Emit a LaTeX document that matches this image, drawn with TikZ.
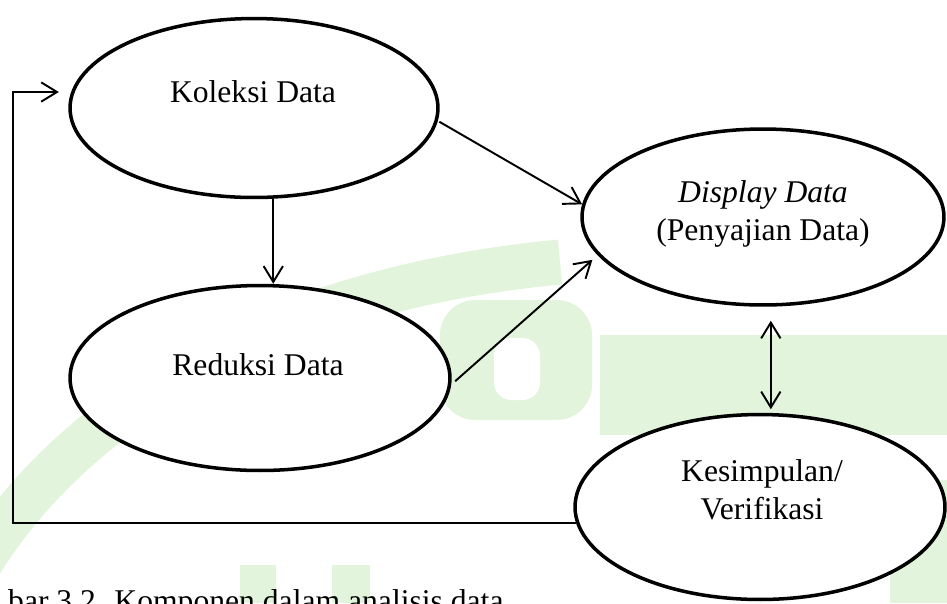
\documentclass[tikz,border=0pt]{standalone}
\usepackage{fontspec}
\setmainfont{Liberation Serif}
\usetikzlibrary{arrows.meta,shapes.geometric,calc}
\tikzset{>={Straight Barb[length=9pt,width=11pt]}}
\tikzset{stage/.style={ellipse,draw,line width=2pt,fill=white,inner sep=0pt}}
\tikzset{flow/.style={->,line width=1.1pt}}
\tikzset{stagetext/.style={font=\fontsize{18}{21.5}\selectfont,align=center}}
\definecolor{wmgreen}{RGB}{226,244,219}

\begin{document}
\begin{tikzpicture}[x=0.02cm,y=-0.02cm]
  \clip (0,0) rectangle (947,603);

  % Watermark
  \draw[wmgreen,line width=0.9cm] (-30,580) .. controls (60,420) and (260,290) .. (560,262);
  \fill[wmgreen,rounded corners=20pt] (440,300) rectangle (592,420);
  \fill[white,rounded corners=10pt] (494,338) rectangle (540,400);
  \fill[wmgreen] (600,335) rectangle (947,435);
  \fill[wmgreen] (240,565) rectangle (276,603);
  \fill[wmgreen] (332,565) rectangle (370,603);
  \fill[wmgreen] (890,480) rectangle (947,603);

  % Stages
  \node[stage,minimum width=7.36cm,minimum height=3.58cm] (koleksi) at (254,108) {};
  \node[stage,minimum width=7.6cm,minimum height=3.7cm] (reduksi) at (260,378) {};
  \node[stage,minimum width=7.24cm,minimum height=3.52cm] (display) at (763,217) {};
  \node[stage,minimum width=7.4cm,minimum height=3.7cm] (kesimpulan) at (760,507) {};

  % Labels
  \node[stagetext] (koleksi-txt) at (253,92) {Koleksi Data};
  \node[stagetext] (reduksi-txt) at (258,365) {Reduksi Data};
  \node[stagetext] (display-txt) at (763,214) {\textit{Display Data}\\(Penyajian Data)};
  \node[stagetext] (kesimpulan-txt) at (762,490) {Kesimpulan/\\Verifikasi};
  \node[stagetext,anchor=base west] (caption) at (2,611) {bar 3.2. Komponen dalam analisis data};

  % Arrows
  \coordinate (back) at (13,0);
  \draw[flow,shorten <=1pt] (koleksi.-4) -- (display.176);
  \draw[flow,shorten <=3pt,shorten >=4pt] (reduksi.-2) -- (display.193);
  \draw[flow] (koleksi.-78) -- (koleksi.-78 |- reduksi.north);
  \draw[flow,<->,shorten <=8pt,shorten >=2pt] (display.-85) -- (display.-85 |- kesimpulan.north);
  \draw[flow,shorten >=7pt] (kesimpulan.185) -| (back |- koleksi.175) -- (koleksi.175);
\end{tikzpicture}
\end{document}
